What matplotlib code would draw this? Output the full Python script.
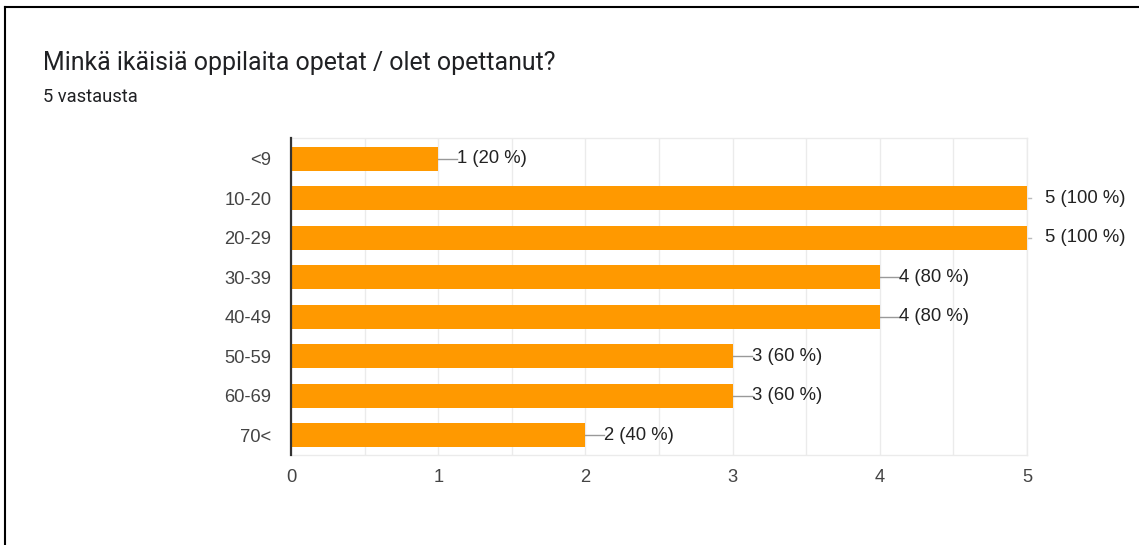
import matplotlib.pyplot as plt
from matplotlib.lines import Line2D

plt.rcParams['font.family'] = ['Liberation Sans', 'DejaVu Sans']

categories = ['<9', '10-20', '20-29', '30-39', '40-49', '50-59', '60-69', '70<']
counts = [1, 5, 5, 4, 4, 3, 3, 2]
total = 5
x_ticks = [0, 1, 2, 3, 4, 5]

fig = plt.figure(figsize=(11.39, 5.45), dpi=100)
ax = fig.add_axes([291 / 1139, 1 - 455 / 545, 736 / 1139, 317 / 545])

y_pos = list(range(len(categories)))
ax.barh(y_pos, counts, height=0.61, color='#ff9900', zorder=3)

# leader lines + labels
for y, c in zip(y_pos, counts):
    pct = round(c / total * 100)
    lbl = '%d (%d %%)' % (c, pct)
    if c < 5:
        ax.plot([c, c + 19 / 147.2], [y, y], color='#999999', lw=1, zorder=2)
        ax.text(c + 19 / 147.2, y, lbl, va='center', ha='left',
                fontsize=13.3, color='#222222')
    else:
        ax.plot([c, c + 4 / 147.2], [y, y], color='#bbbbbb', lw=1,
                zorder=2, clip_on=False)
        ax.text(c + 18 / 147.2, y, lbl, va='center', ha='left',
                fontsize=13.3, color='#222222', clip_on=False)

ax.set_xlim(0, 5)
ax.set_ylim(7.5, -0.53)
ax.set_yticks(y_pos)
ax.set_yticklabels(categories)
ax.set_xticks(x_ticks)
ax.set_xticks([0.5, 1.5, 2.5, 3.5, 4.5], minor=True)
ax.grid(True, axis='x', which='both', color='#ebebeb', lw=1, zorder=0)
ax.tick_params(axis='both', which='both', length=0, labelsize=13.2,
               colors='#444444')
ax.tick_params(axis='y', pad=14)
ax.tick_params(axis='x', pad=10)

for s in ['top', 'right', 'bottom']:
    ax.spines[s].set_color('#ebebeb')
    ax.spines[s].set_linewidth(1)
ax.spines['left'].set_color('#333333')
ax.spines['left'].set_linewidth(1.6)
ax.spines['left'].set_zorder(4)

fig.text(43 / 1139, 1 - 63 / 545, 'Minkä ikäisiä oppilaita opetat / olet opettanut?',
         fontsize=17.9, color='#202124', va='center', ha='left', family='Roboto')
fig.text(43 / 1139, 1 - 97 / 545, '5 vastausta', fontsize=13.2,
         color='#202124', va='center', ha='left', family='Roboto')

# screenshot frame (top and left)
fig.add_artist(Line2D([5 / 1139, 1], [1 - 7 / 545, 1 - 7 / 545],
                      color='black', lw=1.5, transform=fig.transFigure))
fig.add_artist(Line2D([5 / 1139, 5 / 1139], [0, 1 - 7 / 545],
                      color='black', lw=1.5, transform=fig.transFigure))

fig.savefig('out.png', dpi=100)
